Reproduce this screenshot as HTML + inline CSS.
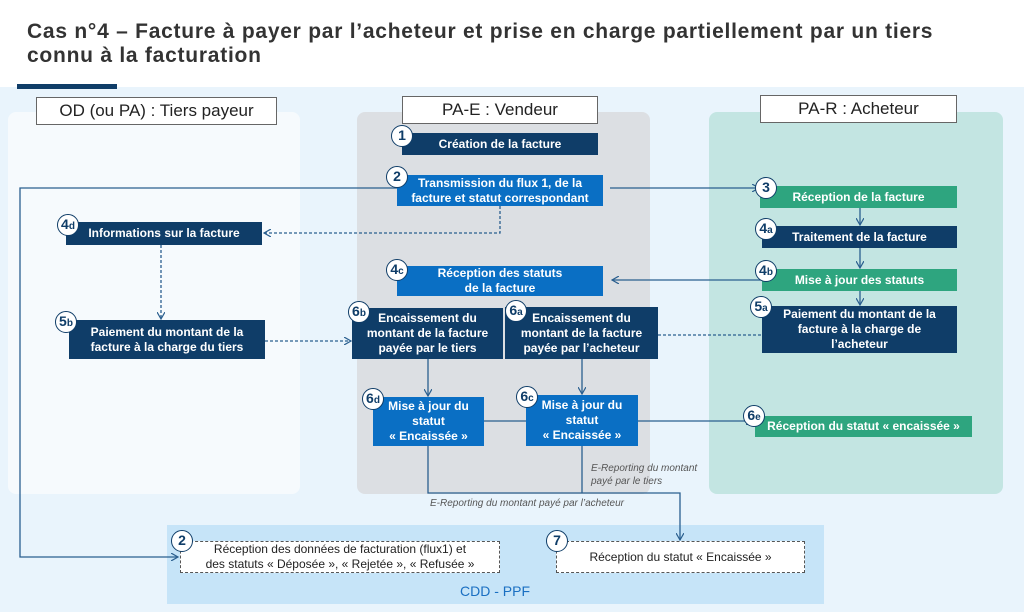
<!DOCTYPE html>
<html><head><meta charset="utf-8"><style>
*{margin:0;padding:0;box-sizing:border-box}
body{width:1024px;height:612px;background:#fff;font-family:"Liberation Sans",sans-serif;position:relative;overflow:hidden}
.a{position:absolute}
.t{left:27px;top:20px;font-size:21px;font-weight:bold;color:#333;line-height:24px;letter-spacing:0.75px;white-space:nowrap}
.hd{position:absolute;background:#fff;border:1px solid #666;font-size:17px;color:#222;text-align:center;line-height:26px}
.b{position:absolute;color:#fff;font-size:12px;font-weight:bold;text-align:center;display:flex;align-items:center;justify-content:center;line-height:15px;white-space:nowrap}
.n{background:#0f3d68}.bl{background:#0a6fc4}.g{background:#2ea57f}
.c{position:absolute;width:22px;height:22px;border-radius:50%;background:#fff;border:1.5px solid #0f3d68;color:#0f3d68;font-weight:bold;font-size:14px;text-align:center;line-height:19px}
.c small{font-size:10px}
.d{position:absolute;background:#fff;border:1px dashed #555;font-size:12px;color:#222;text-align:center;display:flex;align-items:center;justify-content:center;line-height:15px}
.it{position:absolute;font-style:italic;font-size:10px;color:#555;line-height:13px}
</style></head><body>
<div class="a t">Cas n°4 – Facture à payer par l’acheteur et prise en charge partiellement par un tiers<br>connu à la facturation</div>
<div class="a" style="left:0;top:87px;width:1024px;height:525px;background:#e9f4fc"></div>
<div class="a" style="left:17px;top:84px;width:100px;height:5px;background:#0f3d68"></div>
<div class="a" style="left:8px;top:112px;width:292px;height:382px;background:#f6fafd;border-radius:8px"></div>
<div class="a" style="left:357px;top:112px;width:293px;height:382px;background:#dcdfe3;border-radius:8px"></div>
<div class="a" style="left:709px;top:112px;width:294px;height:382px;background:#c3e5e2;border-radius:8px"></div>
<div class="a" style="left:167px;top:525px;width:657px;height:79px;background:#c6e4f8"></div>
<div class="hd" style="left:36px;top:97px;width:241px;height:28px">OD (ou PA) : Tiers payeur</div>
<div class="hd" style="left:402px;top:96px;width:196px;height:28px">PA-E : Vendeur</div>
<div class="hd" style="left:760px;top:95px;width:197px;height:28px">PA-R : Acheteur</div>

<svg class="a" style="left:0;top:0" width="1024" height="612">
<defs><marker id="m" markerWidth="8" markerHeight="8" refX="7" refY="4" orient="auto" markerUnits="userSpaceOnUse"><path d="M0,0 L7,4 L0,8" fill="none" stroke="#2a5f8f" stroke-width="1.2"/></marker></defs>
<g stroke="#2a5f8f" stroke-width="1.3" fill="none">
<polyline points="397,188 20,188 20,557 178,557" marker-end="url(#m)"/>
<line x1="610" y1="188" x2="759" y2="188" marker-end="url(#m)"/>
<polyline points="500,206 500,233 264,233" stroke-dasharray="3,2" marker-end="url(#m)"/>
<line x1="860" y1="208" x2="860" y2="225" marker-end="url(#m)"/>
<line x1="860" y1="248" x2="860" y2="268" marker-end="url(#m)"/>
<line x1="762" y1="280" x2="612" y2="280" marker-end="url(#m)"/>
<line x1="860" y1="291" x2="860" y2="305" marker-end="url(#m)"/>
<line x1="161" y1="245" x2="161" y2="319" stroke-dasharray="3,2" marker-end="url(#m)"/>
<line x1="265" y1="341" x2="351" y2="341" stroke-dasharray="3,2" marker-end="url(#m)"/>
<line x1="658" y1="335" x2="762" y2="335" stroke-dasharray="3,2"/>
<line x1="428" y1="359" x2="428" y2="396" marker-end="url(#m)"/>
<line x1="582" y1="359" x2="582" y2="394" marker-end="url(#m)"/>
<line x1="484" y1="421" x2="526" y2="421"/>
<line x1="638" y1="421" x2="753" y2="421" marker-end="url(#m)"/>
<polyline points="428,446 428,493 680,493 680,540" marker-end="url(#m)"/>
<line x1="582" y1="446" x2="582" y2="493"/>
</g></svg>

<div class="b n" style="left:402px;top:133px;width:196px;height:22px">Création de la facture</div>
<div class="b bl" style="left:397px;top:175px;width:206px;height:31px">Transmission du flux 1, de la<br>facture et statut correspondant</div>
<div class="b g" style="left:760px;top:186px;width:197px;height:22px">Réception de la facture</div>
<div class="b n" style="left:762px;top:226px;width:195px;height:22px">Traitement de la facture</div>
<div class="b g" style="left:762px;top:269px;width:195px;height:22px">Mise à jour des statuts</div>
<div class="b n" style="left:762px;top:306px;width:195px;height:47px">Paiement du montant de la<br>facture à la charge de<br>l’acheteur</div>
<div class="b bl" style="left:397px;top:266px;width:206px;height:30px">Réception des statuts<br>de la facture</div>
<div class="b n" style="left:66px;top:222px;width:196px;height:23px">Informations sur la facture</div>
<div class="b n" style="left:69px;top:320px;width:196px;height:39px">Paiement du montant de la<br>facture à la charge du tiers</div>
<div class="b n" style="left:352px;top:308px;width:151px;height:51px">Encaissement du<br>montant de la facture<br>payée par le tiers</div>
<div class="b n" style="left:505px;top:307px;width:153px;height:52px">Encaissement du<br>montant de la facture<br>payée par l’acheteur</div>
<div class="b bl" style="left:373px;top:397px;width:111px;height:49px">Mise à jour du<br>statut<br>« Encaissée »</div>
<div class="b bl" style="left:526px;top:395px;width:112px;height:51px">Mise à jour du<br>statut<br>« Encaissée »</div>
<div class="b g" style="left:755px;top:416px;width:217px;height:21px">Réception du statut « encaissée »</div>
<div class="d" style="left:180px;top:541px;width:320px;height:32px">Réception des données de facturation (flux1) et<br>des statuts « Déposée », « Rejetée », « Refusée »</div>
<div class="d" style="left:556px;top:541px;width:249px;height:32px">Réception du statut « Encaissée »</div>
<div class="a" style="left:460px;top:583px;font-size:14px;color:#1a6fc2">CDD - PPF</div>
<div class="it" style="left:591px;top:462px">E-Reporting du montant<br>payé par le tiers</div>
<div class="it" style="left:430px;top:497px">E-Reporting du montant payé par l’acheteur</div>

<div class="c" style="left:391px;top:125px">1</div>
<div class="c" style="left:386px;top:166px">2</div>
<div class="c" style="left:755px;top:177px">3</div>
<div class="c" style="left:755px;top:218px">4<small>a</small></div>
<div class="c" style="left:755px;top:260px">4<small>b</small></div>
<div class="c" style="left:750px;top:296px">5<small>a</small></div>
<div class="c" style="left:386px;top:259px">4<small>c</small></div>
<div class="c" style="left:57px;top:214px">4<small>d</small></div>
<div class="c" style="left:55px;top:311px">5<small>b</small></div>
<div class="c" style="left:348px;top:301px">6<small>b</small></div>
<div class="c" style="left:505px;top:300px">6<small>a</small></div>
<div class="c" style="left:362px;top:388px">6<small>d</small></div>
<div class="c" style="left:516px;top:386px">6<small>c</small></div>
<div class="c" style="left:743px;top:405px">6<small>e</small></div>
<div class="c" style="left:171px;top:530px">2</div>
<div class="c" style="left:546px;top:530px">7</div>
</body></html>
